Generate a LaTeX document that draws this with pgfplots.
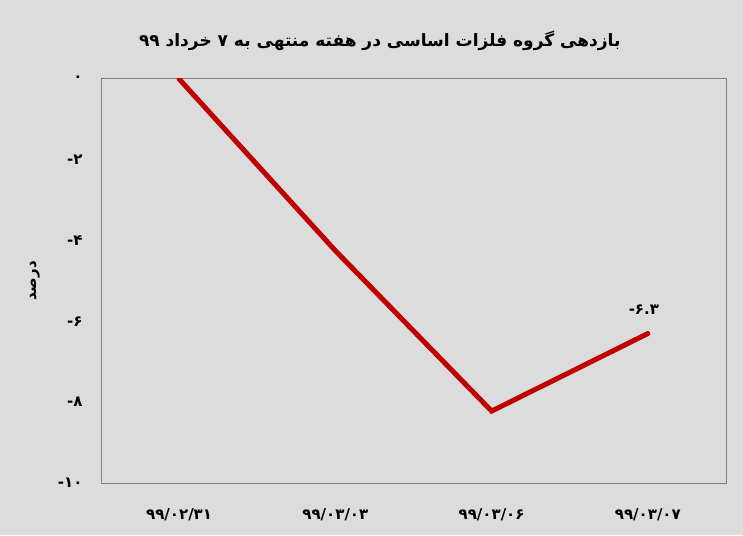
\documentclass[border=0pt]{standalone}
\usepackage{pgfplots}
\pgfplotsset{compat=1.18}
\usepackage{fontspec}
\setmainfont{DejaVu Sans}
\newfontfamily\arabicfont[Script=Arabic]{DejaVu Sans}
\TeXXeTstate=1
\definecolor{bg}{RGB}{220,220,220}
\definecolor{framegray}{RGB}{128,128,128}
\definecolor{linered}{RGB}{192,0,0}
\newcommand{\mn}{{\rmfamily\bfseries -}}
\begin{document}
\begin{tikzpicture}[x=1pt,y=1pt]
\fill[bg] (0,0) rectangle (743,535);
\begin{axis}[
  at={(101pt,52pt)}, anchor=south west,
  scale only axis, width=625pt, height=404pt,
  xmin=-0.5, xmax=3.5, ymin=-10, ymax=0,
  axis background/.style={fill=bg},
  axis line style={framegray, line width=1pt},
  xtick={0,1,2,3},
  xticklabels={{\beginR۹۹/۰۲/۳۱\endR}, {\beginR۹۹/۰۳/۰۳\endR}, {\beginR۹۹/۰۳/۰۶\endR}, {\beginR۹۹/۰۳/۰۷\endR}},
  ytick={0,-2,-4,-6,-8,-10},
  yticklabels={۰, \mn۲, \mn۴, \mn۶, \mn۸, \mn۱۰},
  major tick length=0pt,
  tick label style={font=\arabicfont\bfseries\fontsize{15}{17}\selectfont, text=black},
  xticklabel style={font=\arabicfont\bfseries\fontsize{15}{17}\selectfont},
  xticklabel shift=22pt,
  yticklabel shift=15pt,
  ylabel={\arabicfont\bfseries\fontsize{15}{17}\selectfont\beginR درصد\endR},
  every axis y label/.style={at={(axis description cs:-0.106,0.5)}, rotate=90, anchor=center},
  title={\arabicfont\bfseries\fontsize{17}{20}\selectfont\beginR بازدهی گروه فلزات اساسی در هفته منتهی به ۷ خرداد ۹۹\endR},
  title style={at={(axis description cs:0.446,1.08)}, anchor=center},
]
\addplot[linered, line width=5pt, line join=miter, line cap=round] coordinates {
  (0,0) (1,-4.25) (2,-8.22) (3,-6.3)
};
\node[anchor=south, xshift=-4pt, yshift=15pt, font=\arabicfont\bfseries\fontsize{15}{17}\selectfont] at (axis cs:3,-6.3) {\mn۶.۳};
\end{axis}
\end{tikzpicture}
\end{document}
